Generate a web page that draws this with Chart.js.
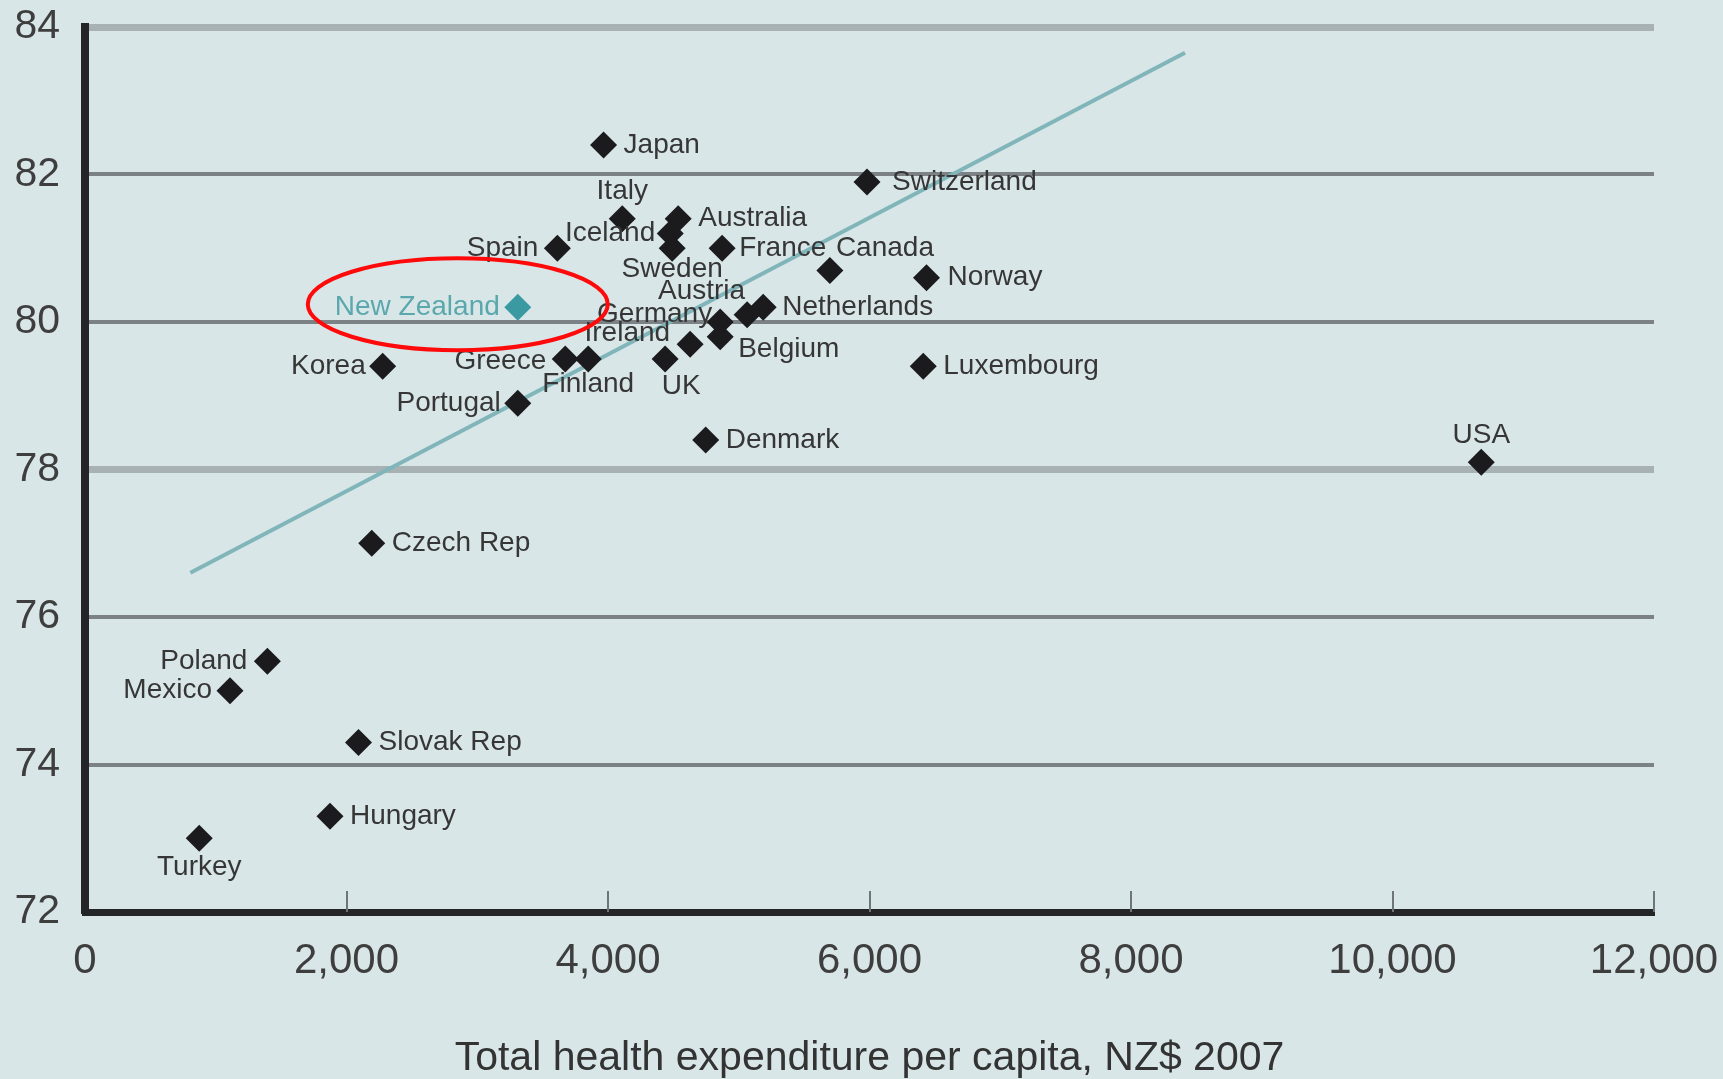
<!DOCTYPE html>
<html>
<head>
<meta charset="utf-8">
<script src="https://cdn.jsdelivr.net/npm/chart.js@4.4.1/dist/chart.umd.min.js"></script>
<style>
html,body{margin:0;padding:0;background:#d9e6e8;}
#wrap{width:1723px;height:1079px;position:relative;background:#d9e6e8;}
</style>
</head>
<body>
<div id="wrap"><canvas id="c"></canvas></div>
<script>
// ---- data ----
const countries = ["Japan","Switzerland","Italy","Australia","Iceland","Sweden","Spain","France","Canada","Norway",
  "New Zealand","Netherlands","Austria","Germany","Belgium","Ireland","UK","Greece","Finland","Korea",
  "Luxembourg","Portugal","Denmark","USA","Czech Rep","Poland","Mexico","Slovak Rep","Hungary","Turkey"];
const spending = [3966,5981,4109,4537,4476,4491,3613,4873,5697,6436,
  3310,5187,5064,4858,4858,4628,4437,3673,3849,2277,
  6411,3310,4747,10679,2193,1395,1109,2092,1874,874];
const lifeExpectancy = [82.4,81.9,81.4,81.4,81.2,81.0,81.0,81.0,80.7,80.6,
  80.2,80.2,80.1,80.0,79.8,79.7,79.5,79.5,79.5,79.4,
  79.4,78.9,78.4,78.1,77.0,75.4,75.0,74.3,73.3,73.0];
const trendX = [806, 8413];
const trendY = [76.6, 83.65];
const xTicks = [0,2000,4000,6000,8000,10000,12000];
const yTicks = [72,74,76,78,80,82,84];
const xTitle = "Total health expenditure per capita, NZ$ 2007";
const highlight = "New Zealand";

// ---- label layout (styling, not data) ----
const labelPlacement = {
  "Japan":["left",20,0], "Switzerland":["left",25,0], "Italy":["center",0,-27], "Australia":["left",20,0],
  "Iceland":["right",-15,0], "Sweden":["center",0,21], "Spain":["right",-19,0], "France":["left",17,0],
  "Canada":["left",6,-22], "Norway":["left",21,0], "New Zealand":["right",-18,0], "Netherlands":["left",19,0],
  "Austria":["right",-2,-23], "Germany":["right",-8,-8], "Belgium":["left",18,13], "Ireland":["right",-20,-11],
  "UK":["center",16,27], "Greece":["right",-19,2], "Finland":["center",0,25], "Korea":["right",-17,0],
  "Luxembourg":["left",20,0], "Portugal":["right",-17,0], "Denmark":["left",20,0], "USA":["center",0,-27],
  "Czech Rep":["left",20,0], "Poland":["right",-20,0], "Mexico":["right",-18,0], "Slovak Rep":["left",20,0],
  "Hungary":["left",20,0], "Turkey":["center",0,29]
};

const FONT = '"Liberation Sans", Arial, Helvetica, sans-serif';
const points = countries.map((c,i)=>({x:spending[i], y:lifeExpectancy[i]}));
const trend = trendX.map((x,i)=>({x:x, y:trendY[i]}));
const pointColors = countries.map(c => c===highlight ? '#3b9aa1' : '#1b1b1d');

const tickMarks = {
  id:'tickMarks',
  beforeDatasetsDraw(chart){
    const xs = chart.scales.x, area = chart.chartArea, ctx = chart.ctx;
    ctx.save();
    ctx.strokeStyle = '#6f7577';
    ctx.lineWidth = 2;
    xTicks.forEach(v=>{
      if (v===0) return;
      const px = Math.round(xs.getPixelForValue(v));
      ctx.beginPath();
      ctx.moveTo(px, area.bottom);
      ctx.lineTo(px, area.bottom - 21);
      ctx.stroke();
    });
    ctx.restore();
  }
};

const pointLabels = {
  id:'pointLabels',
  afterDatasetsDraw(chart){
    const meta = chart.getDatasetMeta(1), ctx = chart.ctx;
    ctx.save();
    ctx.font = '28px ' + FONT;
    ctx.textBaseline = 'middle';
    meta.data.forEach((el,i)=>{
      const name = countries[i];
      const p = labelPlacement[name] || ["left",20,0];
      ctx.textAlign = p[0];
      ctx.fillStyle = name===highlight ? '#5aa8ad' : '#363636';
      ctx.fillText(name, el.x + p[1], el.y + p[2]);
    });
    ctx.restore();
  },
  afterDraw(chart){
    const meta = chart.getDatasetMeta(1), ctx = chart.ctx;
    const idx = countries.indexOf(highlight);
    const el = meta.data[idx];
    ctx.save();
    ctx.strokeStyle = '#ff0a0a';
    ctx.lineWidth = 4;
    ctx.beginPath();
    ctx.ellipse(el.x - 60, el.y - 3, 150, 46, 0, 0, Math.PI*2);
    ctx.stroke();
    ctx.restore();
  }
};

new Chart(document.getElementById('c'), {
  data: {
    datasets: [
      {
        type:'scatter', data: trend, showLine:true, borderColor:'#80b5ba', borderWidth:4,
        pointRadius:0, fill:false, order:2
      },
      {
        type:'scatter', data: points, pointStyle:'rectRot', pointRadius:13.5,
        backgroundColor: pointColors, borderColor: pointColors, borderWidth:0, order:1
      }
    ]
  },
  options: {
    responsive:true, maintainAspectRatio:false, animation:false, events:[],
    layout:{padding:{left:0,right:69,top:27,bottom:0}},
    plugins:{legend:{display:false}, tooltip:{enabled:false}},
    scales:{
      x:{
        type:'linear', min:0, max:12000,
        afterBuildTicks(s){ s.ticks = xTicks.map(v=>({value:v})); },
        afterFit(s){ s.height = 167; s.paddingLeft = 0; s.paddingRight = 0; s.paddingTop = 0; s.paddingBottom = 0; },
        grid:{display:false, drawTicks:false},
        border:{display:true, color:'#242527', width:7},
        ticks:{padding:24, color:'#3e3e3e', font:{family:FONT, size:42},
          maxRotation:0, autoSkip:false,
          callback:(v)=>Number(v).toLocaleString('en-US')},
        title:{display:true, text:xTitle, color:'#333333', font:{family:FONT, size:41, lineHeight:1},
          padding:{top:0,bottom:0}}
      },
      y:{
        type:'linear', min:72, max:84,
        afterBuildTicks(s){ s.ticks = yTicks.map(v=>({value:v})); },
        afterFit(s){ s.width = 85; s.paddingTop = 0; s.paddingBottom = 0; s.paddingLeft = 0; s.paddingRight = 0; },
        grid:{
          drawTicks:false,
          color:(c)=> (c.tick && (c.tick.value===84 || c.tick.value===78)) ? '#a8b1b3' : '#7b8184',
          lineWidth:(c)=> (c.tick && (c.tick.value===84 || c.tick.value===78)) ? 7 : 4
        },
        border:{display:true, color:'#242527', width:8},
        ticks:{padding:25, color:'#3e3e3e', font:{family:FONT, size:41}}
      }
    }
  },
  plugins:[tickMarks, pointLabels]
});
</script>
</body>
</html>
